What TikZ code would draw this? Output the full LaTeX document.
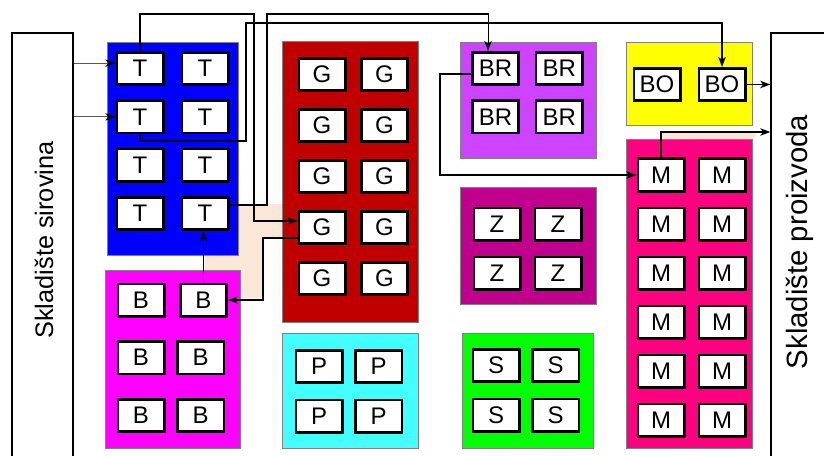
\documentclass[tikz,border=0pt]{standalone}
\usepackage{fontspec}
\setmainfont{Liberation Sans}
\usepackage{tikz}
\usetikzlibrary{positioning, arrows, arrows.meta, calc}
\definecolor{plava}{HTML}{0000FF}
\definecolor{crvena}{HTML}{C00000}
\definecolor{ruzicasta}{HTML}{FF00FF}
\definecolor{tirkizna}{HTML}{44FFFF}
\definecolor{ljubicasta}{HTML}{CC44FF}
\definecolor{purpurna}{HTML}{C0008C}
\definecolor{zelena}{HTML}{00FF00}
\definecolor{zuta}{HTML}{FFFF00}
\definecolor{malina}{HTML}{FF0080}
\definecolor{breskva}{HTML}{FBE7D8}
\tikzset{
	>={Stealth[length=7.5pt, width=5.5pt, inset=2pt]},
	node distance=10pt,
	stroj/.style={draw, line width=2pt, fill=white, minimum width=34.75pt, minimum height=24.25pt, inner sep=0pt, font=\fontsize{18}{18}\selectfont},
	odjel/.style={draw=gray, line width=0.5pt},
	skladiste/.style={draw, line width=1.5pt, fill=white},
	natpis/.style={rotate=90, inner sep=0pt},
	veza/.style={->, line width=1pt},
	ulaz/.style={-{Stealth[length=7.5pt, width=5.5pt, inset=2pt, black]}, line width=0.8pt, draw=gray!70!black},
}

\begin{document}
\begin{tikzpicture}[x=0.75pt, y=-0.75pt]
	\useasboundingbox (0,0) rectangle (824,456);
	
	% podloga ispod veza
	\fill[breskva] (205,204) -- (282,204) -- (282,237) -- (263,237) -- (263,298) -- (205,298) -- cycle;
	\fill[breskva] (661,132) -- (752,132) -- (757,135) -- (753,139) -- (661,139) -- cycle;
	
	% odjeli
	\draw[odjel, fill=plava] (107,42) rectangle (238,255);
	\draw[odjel, fill=ruzicasta] (105,270) rectangle (240,448);
	\draw[odjel, fill=crvena] (282,41) rectangle (418,322);
	\draw[odjel, fill=tirkizna] (282,333) rectangle (418,448);
	\draw[odjel, fill=ljubicasta] (460,42) rectangle (596,158);
	\draw[odjel, fill=purpurna] (460,187) rectangle (596,304);
	\draw[odjel, fill=zelena] (462,333) rectangle (593,448);
	\draw[odjel, fill=zuta] (626,42) rectangle (752,125);
	\draw[odjel, fill=malina] (626,139) rectangle (752,448);
	
	% skladista
	\node[skladiste, minimum width=45.75pt, minimum height=340pt] (sirovine) at (42.5,260) {};
	\node[natpis, font=\fontsize{19}{19}\selectfont] (sirovineTekst) at (44,240) {Skladište sirovina};
	\node[skladiste, minimum width=100pt, minimum height=340pt] (proizvodi) at (838,260) {};
	\node[natpis, font=\fontsize{22}{22}\selectfont] (proizvodiTekst) at (800,242) {Skladište proizvoda};
	
	% T
	\node[stroj] (T11) at (140,68.5) {T};
	\node[stroj, right=12pt of T11] (T12) {T};
	\node[stroj, below=10pt of T11] (T21) {T};
	\node[stroj, right=12pt of T21] (T22) {T};
	\node[stroj, below=10pt of T21] (T31) {T};
	\node[stroj, right=12pt of T31] (T32) {T};
	\node[stroj, below=10pt of T31] (T41) {T};
	\node[stroj, right=12pt of T41] (T42) {T};
	
	% B
	\node[stroj] (B11) at (141,300) {B};
	\node[stroj, right=10pt of B11] (B12) {B};
	\node[stroj, below=17pt of B11] (B21) {B};
	\node[stroj, right=8pt of B21] (B22) {B};
	\node[stroj, below=17pt of B21] (B31) {B};
	\node[stroj, right=8pt of B31] (B32) {B};
	
	% G
	\node[stroj] (G11) at (322,74.5) {G};
	\node[stroj, right=10pt of G11] (G12) {G};
	\node[stroj, below=12pt of G11] (G21) {G};
	\node[stroj, right=10pt of G21] (G22) {G};
	\node[stroj, below=12pt of G21] (G31) {G};
	\node[stroj, right=10pt of G31] (G32) {G};
	\node[stroj, below=12pt of G31] (G41) {G};
	\node[stroj, right=10pt of G41] (G42) {G};
	\node[stroj, below=12pt of G41] (G51) {G};
	\node[stroj, right=10pt of G51] (G52) {G};
	
	% P
	\node[stroj] (P11) at (319,366.5) {P};
	\node[stroj, right=8pt of P11] (P12) {P};
	\node[stroj, below=11pt of P11] (P21) {P};
	\node[stroj, right=8pt of P21] (P22) {P};
	
	% BR
	\node[stroj] (BR11) at (495.5,68.5) {BR};
	\node[stroj, right=11pt of BR11] (BR12) {BR};
	\node[stroj, below=10pt of BR11] (BR21) {BR};
	\node[stroj, right=11pt of BR21] (BR22) {BR};
	
	% Z
	\node[stroj] (Z11) at (497,224) {Z};
	\node[stroj, right=9pt of Z11] (Z12) {Z};
	\node[stroj, below=10.5pt of Z11] (Z21) {Z};
	\node[stroj, right=9pt of Z21] (Z22) {Z};
	
	% S
	\node[stroj] (S11) at (496,365.5) {S};
	\node[stroj, right=8pt of S11] (S12) {S};
	\node[stroj, below=11pt of S11] (S21) {S};
	\node[stroj, right=8pt of S21] (S22) {S};
	
	% BO
	\node[stroj] (BO11) at (657,84.5) {BO};
	\node[stroj, right=12pt of BO11] (BO12) {BO};
	
	% M
	\node[stroj] (M11) at (661,175) {M};
	\node[stroj, right=9pt of M11] (M12) {M};
	\node[stroj, below=10.5pt of M11] (M21) {M};
	\node[stroj, right=9pt of M21] (M22) {M};
	\node[stroj, below=10.5pt of M21] (M31) {M};
	\node[stroj, right=9pt of M31] (M32) {M};
	\node[stroj, below=10.5pt of M31] (M41) {M};
	\node[stroj, right=9pt of M41] (M42) {M};
	\node[stroj, below=10.5pt of M41] (M51) {M};
	\node[stroj, right=9pt of M51] (M52) {M};
	\node[stroj, below=10.5pt of M51] (M61) {M};
	\node[stroj, right=9pt of M61] (M62) {M};
	
	% veze
	\draw[ulaz] ([yshift=4pt]T11.west -| sirovine.east) -- ([yshift=4pt]T11.west);
	\draw[ulaz] (T21.west -| sirovine.east) -- (T21.west);
	\draw[veza] (T11.north) |- (254,14) |- ([yshift=4.9pt]G41.west);
	\draw[veza, line width=0.8pt] ([yshift=6.4pt]T42.east) -| (267,14) -| ([xshift=-5.6pt]BR11.north);
	\draw[veza, line width=1.6pt] (T21.south) |- (246,141) -- (246,23) -| (BO12.north);
	\draw[veza, line width=1.2pt] ([yshift=-7.9pt]G41.west) -| (263,270) |- (B12.east);
	\draw[veza, line width=1.2pt] (B12.north) -- (B12.north |- T42.south);
	\draw[veza] ([yshift=-4.1pt]BR11.west) -| (440,120) |- (M11.west);
	\draw[veza] (M11.north) |- (M11.north |- 0,132) -- (proizvodi.west |- 0,132);
	\draw[veza] (BO12.east) -- (BO12.east -| proizvodi.west);
	
\end{tikzpicture}
\end{document}
